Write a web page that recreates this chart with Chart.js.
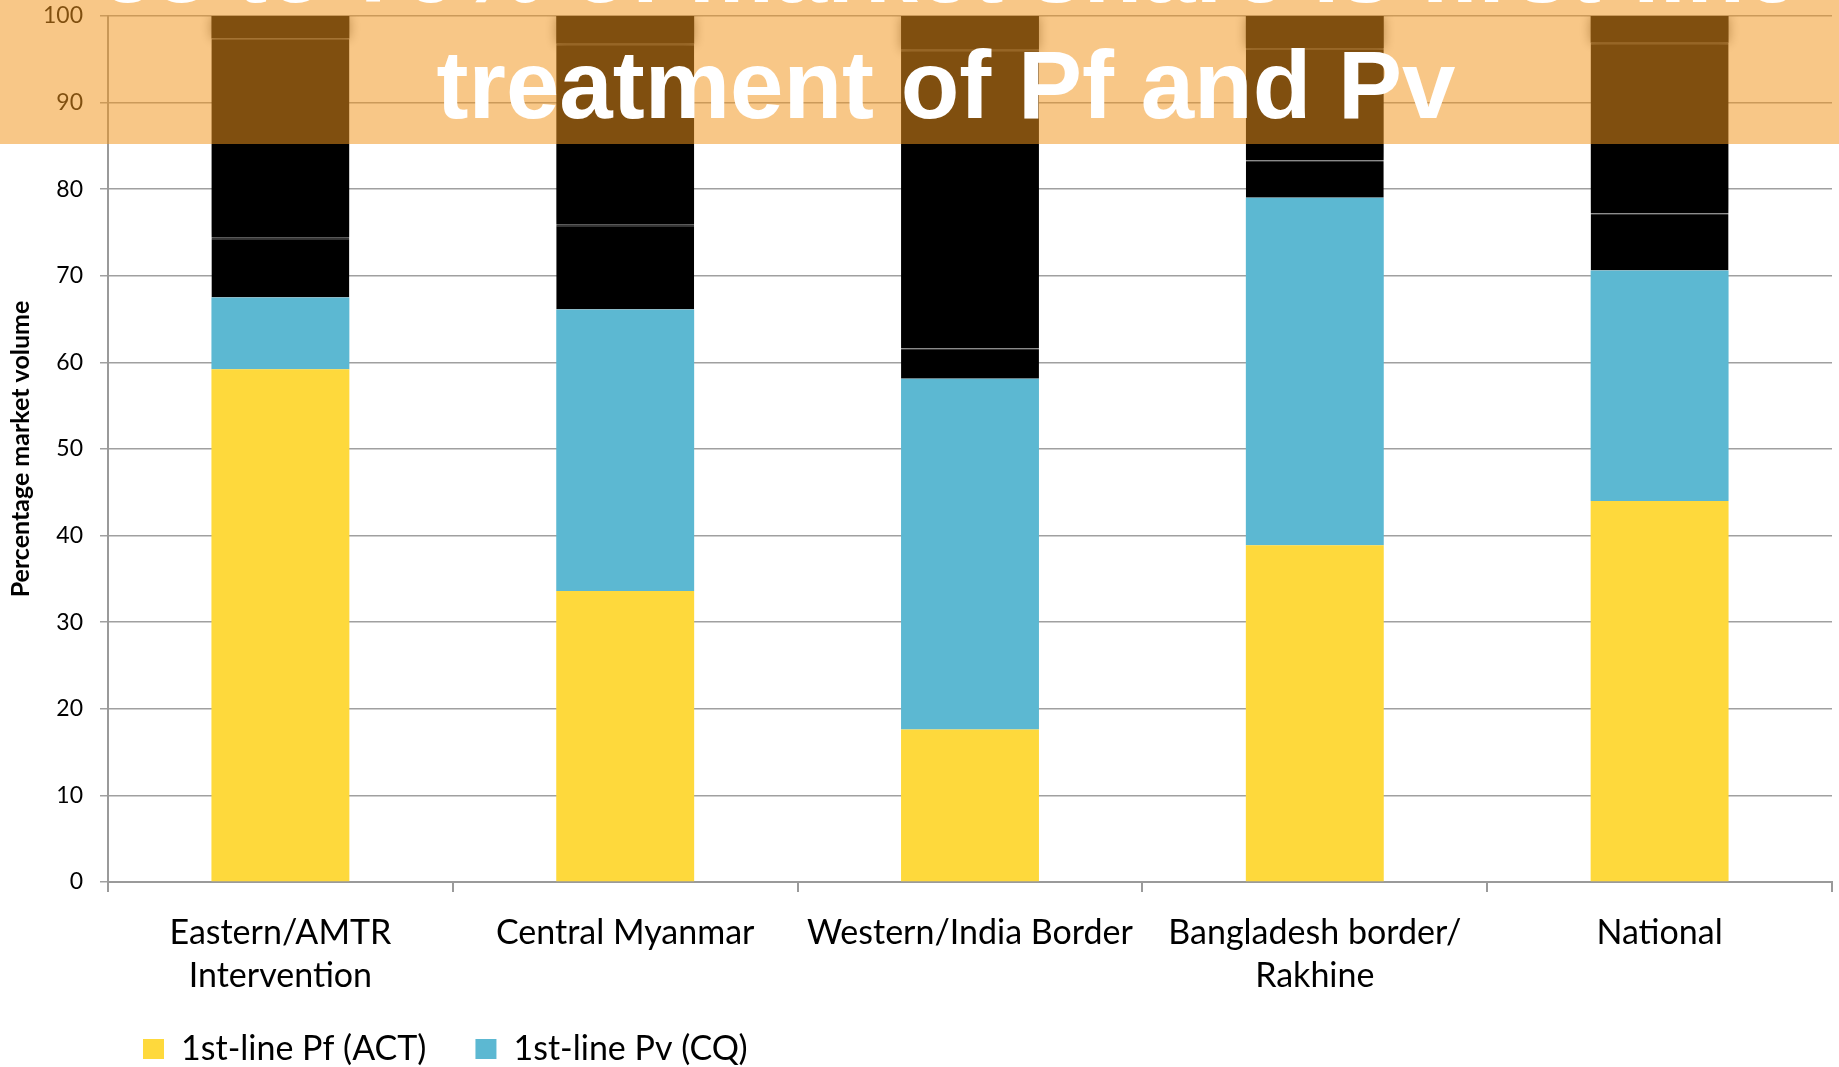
<!DOCTYPE html>
<html>
<head>
<meta charset="utf-8">
<script src="https://cdn.jsdelivr.net/npm/chart.js@4.4.1/dist/chart.umd.min.js"></script>
<style>
html, body { margin: 0; padding: 0; background: #ffffff; }
#wrap { width: 1839px; height: 1067px; position: relative; }
</style>
</head>
<body>
<div id="wrap"><canvas id="c" width="1839" height="1067"></canvas></div>
<script>
// ---- data ----
const categories = [
  ['Eastern/AMTR', 'Intervention'],
  'Central Myanmar',
  'Western/India Border',
  ['Bangladesh border/', 'Rakhine'],
  'National'
];
const pfACT = [59.2, 33.6, 17.6, 38.9, 44.0];
const pvCQ = [8.3, 32.5, 40.5, 40.1, 26.6];
// segments that are blacked out in the reference
const coveredLower = [6.9, 9.8, 3.5, 4.3, 6.6];
const coveredMiddle = [23.0, 20.9, 34.5, 13.0, 19.7];
const coveredTop = [2.6, 3.2, 3.9, 3.7, 3.1];

const seriesLabels = ['1st-line Pf (ACT)', '1st-line Pv (CQ)', 'Covered series A', 'Covered series B', 'Covered series C'];
const yTicks = [0, 10, 20, 30, 40, 50, 60, 70, 80, 90, 100];
const yAxisTitle = 'Percentage market volume';
const headlineLine1 = '58 to 79% of market share is first-line';
const headlineLine2 = 'treatment of Pf and Pv';

const FONT = 'Lato';

const bannerPlugin = {
  id: 'banner',
  afterDraw(chart) {
    const ctx = chart.ctx;
    ctx.save();
    ctx.fillStyle = 'rgba(241,150,28,0.53)';
    ctx.fillRect(0, 0, chart.width, 144);
    ctx.fillStyle = '#ffffff';
    ctx.font = 'bold 96px "Liberation Sans", Arial, sans-serif';
    ctx.textAlign = 'center';
    ctx.textBaseline = 'alphabetic';
    ctx.fillText(headlineLine1, 950, 2);
    ctx.fillText(headlineLine2, 946, 118);
    ctx.restore();
  }
};

const shadowPlugin = {
  id: 'boxShadow',
  beforeDatasetDraw(chart, args) {
    if (chart.data.datasets[args.index].shadowed) {
      chart.ctx.save();
      chart.ctx.shadowColor = 'rgba(0,0,0,0.5)';
      chart.ctx.shadowBlur = 12;
    }
  },
  afterDatasetDraw(chart, args) {
    if (chart.data.datasets[args.index].shadowed) {
      chart.ctx.restore();
    }
  }
};

const legendPlacePlugin = {
  id: 'legendPlace',
  beforeDraw(chart) {
    const lg = chart.legend;
    if (lg) {
      lg.left = 94;
      lg.right = chart.width;
      lg.width = lg.right - lg.left;
      lg.top = 983;
    }
  }
};

function build() {
  new Chart(document.getElementById('c'), {
    type: 'bar',
    data: {
      labels: categories,
      datasets: [
        { label: seriesLabels[0], data: pfACT, backgroundColor: 'rgb(254,217,60)', borderWidth: 0 },
        { label: seriesLabels[1], data: pvCQ, backgroundColor: 'rgb(92,184,210)', borderWidth: 0 },
        { label: seriesLabels[2], data: coveredLower, backgroundColor: '#000000',
          borderColor: '#363636', borderSkipped: false,
          borderWidth: { top: 1.5, bottom: 0, left: 0, right: 0 } },
        { label: seriesLabels[3], data: coveredMiddle, backgroundColor: '#000000', shadowed: true,
          borderColor: '#404040', borderSkipped: false,
          borderWidth: { top: 1.5, bottom: 0, left: 0, right: 0 } },
        { label: seriesLabels[4], data: coveredTop, backgroundColor: '#000000', shadowed: true, borderWidth: 0 }
      ]
    },
    options: {
      responsive: false,
      animation: false,
      devicePixelRatio: 1,
      datasets: { bar: { categoryPercentage: 0.8, barPercentage: 0.5 } },
      layout: { padding: { left: 0, right: 7, top: 16, bottom: 0 } },
      plugins: {
        title: { display: false },
        tooltip: { enabled: false },
        legend: {
          display: true,
          position: 'bottom',
          align: 'start',
          maxHeight: 60,
          labels: {
            filter: (item) => item.datasetIndex < 2,
            boxWidth: 21,
            boxHeight: 20,
            padding: 49,
            color: '#000000',
            font: { family: FONT, size: 34 }
          }
        }
      },
      scales: {
        x: {
          stacked: true,
          afterFit(scale) { scale.height = 125; },
          grid: { display: true, drawOnChartArea: false, drawTicks: true, tickLength: 10, color: '#9a9a9a', lineWidth: 2, offset: true },
          border: { display: true, color: '#9a9a9a', width: 2 },
          ticks: { color: '#000000', padding: 19, maxRotation: 0, autoSkip: false,
                   font: { family: FONT, size: 34, lineHeight: 1.27 } }
        },
        y: {
          stacked: true,
          min: 0, max: 100,
          afterFit(scale) { scale.width = 108; scale.paddingTop = 0; scale.paddingBottom = 0; },
          afterBuildTicks(scale) { scale.ticks = yTicks.map(v => ({ value: v })); },
          grid: { color: '#a0a0a0', lineWidth: 1.5, tickLength: 8, drawTicks: true },
          border: { display: true, color: '#9a9a9a', width: 2 },
          ticks: { color: '#000000', padding: 17, font: { family: FONT, size: 23 } },
          title: { display: true, text: yAxisTitle, color: '#000000',
                   padding: { top: 6, bottom: 0 },
                   font: { family: FONT, size: 25, weight: 'bold' } }
        }
      }
    },
    plugins: [shadowPlugin, legendPlacePlugin, bannerPlugin]
  });
}

const fontLoads = [
  document.fonts.load('34px Lato'),
  document.fonts.load('bold 25px Lato'),
  document.fonts.load('bold 96px "Liberation Sans"')
];
Promise.all(fontLoads).then(build, build);
</script>
</body>
</html>
